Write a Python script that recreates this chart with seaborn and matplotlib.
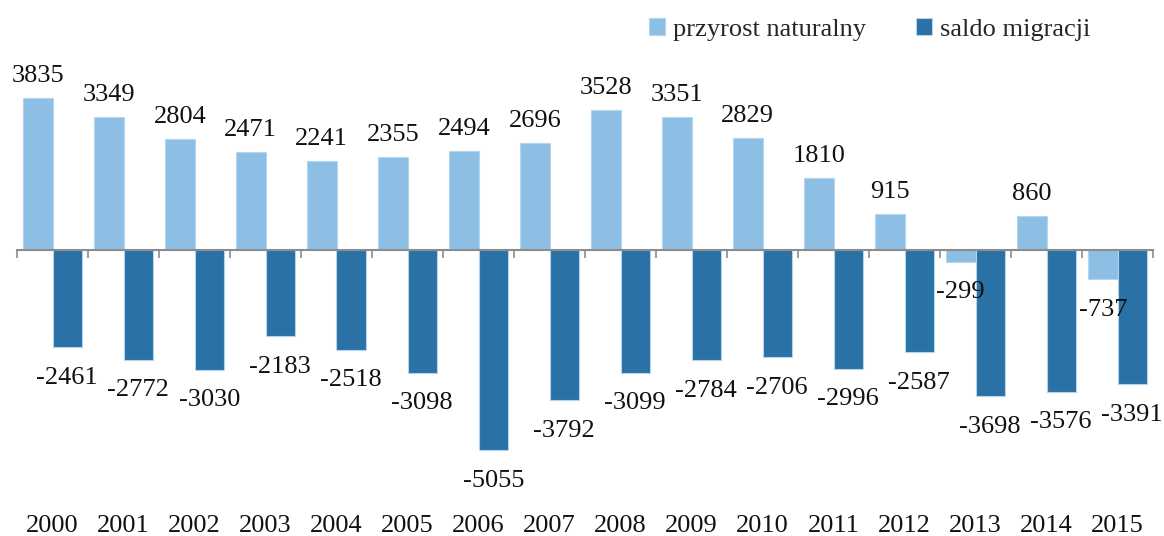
import matplotlib
matplotlib.use("Agg")
import matplotlib.pyplot as plt
import seaborn as sns
import pandas as pd
import numpy as np

years = [str(y) for y in range(2000, 2016)]
przyrost = [3835, 3349, 2804, 2471, 2241, 2355, 2494, 2696, 3528, 3351, 2829, 1810, 915, -299, 860, -737]
saldo = [-2461, -2772, -3030, -2183, -2518, -3098, -5055, -3792, -3099, -2784, -2706, -2996, -2587, -3698, -3576, -3391]
series = ["przyrost naturalny", "saldo migracji"]
colors = ["#8dbfe5", "#2a71a6"]

sns.set_theme(style="white")
plt.rcParams["font.family"] = ["Liberation Serif", "DejaVu Serif"]

df = pd.DataFrame({
    "rok": years * 2,
    "wartosc": przyrost + saldo,
    "seria": [series[0]] * len(years) + [series[1]] * len(years),
})

fig = plt.figure(figsize=(11.64, 5.36), dpi=100)
ax = fig.add_axes([17 / 1164, 1 - 505 / 536, (1153 - 17) / 1164, (505 - 60) / 536])

sns.barplot(data=df, x="rok", y="wartosc", hue="seria", palette=colors,
            saturation=1, width=0.83, ax=ax, edgecolor="#b5d4ee", linewidth=0.8,
            errorbar=None, legend=True)

ax.set_xlim(-0.5, len(years) - 0.5)
ax.set_ylim(-6439, 4798)
ax.set_xlabel("")
ax.set_ylabel("")
ax.set_yticks([])

for c in ax.containers:
    for bar in c:
        v = bar.get_height()
        off = 8 if v >= 0 else -14
        ax.annotate(f"{int(round(v))}", (bar.get_x() + bar.get_width() / 2, v),
                    xytext=(0, off), textcoords="offset points",
                    ha="center", va="bottom" if v >= 0 else "top",
                    fontsize=19, color="#111111")

for s in ["top", "right", "left"]:
    ax.spines[s].set_visible(False)
ax.spines["bottom"].set_position(("data", 0))
ax.spines["bottom"].set_color("#8c8c8c")
ax.spines["bottom"].set_linewidth(1.5)
ax.set_xticks(np.arange(len(years) + 1) - 0.5)
ax.set_xticklabels([])
ax.tick_params(axis="x", which="major", direction="out", length=6, width=1.2,
               color="#8c8c8c", bottom=True)

sec = ax.secondary_xaxis("bottom")
sec.set_xticks(np.arange(len(years)))
sec.set_xticklabels(years, fontsize=19, color="#111111")
sec.tick_params(length=0, pad=7)
sec.spines["bottom"].set_visible(False)

h, l = ax.get_legend_handles_labels()
ax.get_legend().remove()
fig.legend(h, l, loc="upper right", bbox_to_anchor=(0.957, 1.011), ncol=2,
           frameon=False, fontsize=19, handlelength=0.6, handleheight=0.6,
           handletextpad=0.3, columnspacing=1.9)

fig.savefig("out.png", dpi=100)
